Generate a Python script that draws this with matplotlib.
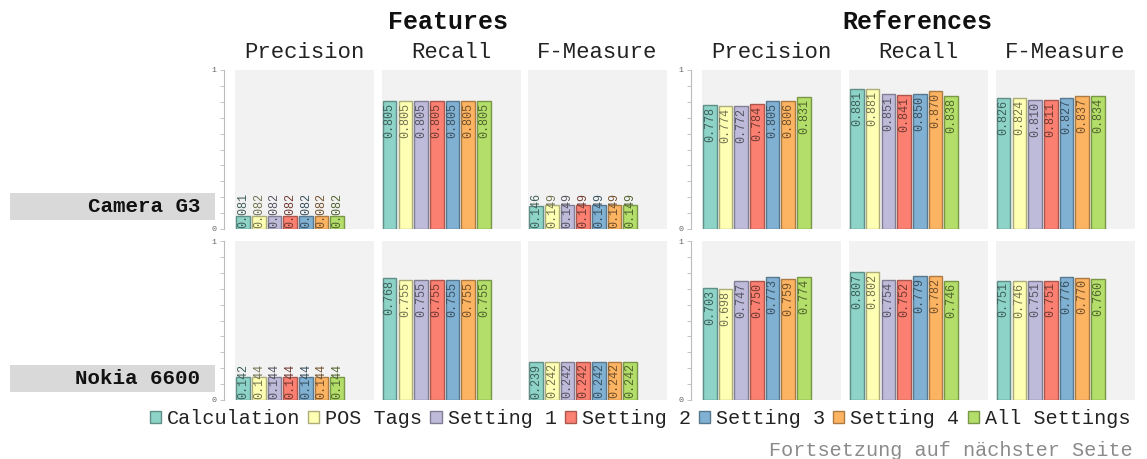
import matplotlib
matplotlib.use('Agg')
import matplotlib.pyplot as plt
import matplotlib.colors as mcolors
from matplotlib.patches import Rectangle, Patch

plt.rcParams['font.family'] = ['Liberation Mono', 'DejaVu Sans Mono']

series = ['Calculation', 'POS Tags', 'Setting 1', 'Setting 2', 'Setting 3', 'Setting 4', 'All Settings']
colors = ['#8dd3c7', '#ffffb3', '#bebada', '#fb8072', '#80b1d3', '#fdb462', '#b3de69']
groups = ['Features', 'References']
metrics = ['Precision', 'Recall', 'F-Measure']
products = ['Camera G3', 'Nokia 6600']

# Camera G3
camera_feat_precision = [0.081, 0.082, 0.082, 0.082, 0.082, 0.082, 0.082]
camera_feat_recall = [0.805, 0.805, 0.805, 0.805, 0.805, 0.805, 0.805]
camera_feat_fmeasure = [0.146, 0.149, 0.149, 0.149, 0.149, 0.149, 0.149]
camera_ref_precision = [0.778, 0.774, 0.772, 0.784, 0.805, 0.806, 0.831]
camera_ref_recall = [0.881, 0.881, 0.851, 0.841, 0.850, 0.870, 0.838]
camera_ref_fmeasure = [0.826, 0.824, 0.810, 0.811, 0.827, 0.837, 0.834]

# Nokia 6600
nokia_feat_precision = [0.142, 0.144, 0.144, 0.144, 0.144, 0.144, 0.144]
nokia_feat_recall = [0.768, 0.755, 0.755, 0.755, 0.755, 0.755, 0.755]
nokia_feat_fmeasure = [0.239, 0.242, 0.242, 0.242, 0.242, 0.242, 0.242]
nokia_ref_precision = [0.703, 0.698, 0.747, 0.750, 0.773, 0.759, 0.774]
nokia_ref_recall = [0.807, 0.802, 0.754, 0.752, 0.779, 0.782, 0.746]
nokia_ref_fmeasure = [0.751, 0.746, 0.751, 0.751, 0.776, 0.770, 0.760]

rows = [
    [camera_feat_precision, camera_feat_recall, camera_feat_fmeasure,
     camera_ref_precision, camera_ref_recall, camera_ref_fmeasure],
    [nokia_feat_precision, nokia_feat_recall, nokia_feat_fmeasure,
     nokia_ref_precision, nokia_ref_recall, nokia_ref_fmeasure],
]

W, H = 1147, 459
col_left = [235, 381.5, 528, 701.7, 848.8, 995.5]
col_width = 139
row_top = [70, 241]
row_height = 159


def shade(c, f):
    r, g, b = mcolors.to_rgb(c)
    return (r * f, g * f, b * f)


def draw_panel(ax, vals, with_axis):
    xs = list(range(len(vals)))
    ax.bar(xs, vals, width=0.87, color=colors,
           edgecolor=[shade(c, 0.68) for c in colors], linewidth=1, zorder=2)
    for x, v, c in zip(xs, vals, colors):
        if v - 0.012 < 0.225:
            ax.text(x, 0.008, '%.3f' % v, rotation=90, ha='center', va='bottom',
                    fontsize=8.5, color=shade(c, 0.45), zorder=3)
        else:
            ax.text(x, v - 0.012, '%.3f' % v, rotation=90, ha='center', va='top',
                    fontsize=8.5, color=shade(c, 0.45), zorder=3)
    ax.set_xlim(-0.52, 8.34)
    ax.set_ylim(0, 1)
    ax.set_facecolor('#f2f2f2')
    ax.set_xticks([])
    for s in ['top', 'right', 'bottom']:
        ax.spines[s].set_visible(False)
    if with_axis:
        ax.spines['left'].set_position(('outward', 8))
        ax.spines['left'].set_color('#bbbbbb')
        ax.spines['left'].set_linewidth(0.8)
        ax.set_yticks([0, 1])
        ax.set_yticklabels(['0', '1'])
        ax.set_yticks([i / 10 for i in range(1, 10)], minor=True)
        ax.tick_params(axis='y', which='both', length=3, width=0.6, color='#bbbbbb',
                       labelsize=6, labelcolor='#666666', pad=2)
    else:
        ax.spines['left'].set_visible(False)
        ax.set_yticks([])


fig = plt.figure(figsize=(W / 100, H / 100), dpi=100)

for r, row_vals in enumerate(rows):
    for c, vals in enumerate(row_vals):
        ax = fig.add_axes([col_left[c] / W, 1 - (row_top[r] + row_height) / H,
                           col_width / W, row_height / H])
        draw_panel(ax, vals, c in (0, 3))

# column headers
for c in range(6):
    fig.text((col_left[c] + col_width / 2) / W, 1 - 52 / H, metrics[c % 3],
             ha='center', va='center', fontsize=16, color='#222222')
fig.text(448 / W, 1 - 22 / H, groups[0], ha='center', va='center',
         fontsize=18, fontweight='bold', color='#111111')
fig.text(917 / W, 1 - 22 / H, groups[1], ha='center', va='center',
         fontsize=18, fontweight='bold', color='#111111')

# row labels
label_box = [(193, 220), (365, 392)]
for name, (y0, y1) in zip(products, label_box):
    fig.patches.append(Rectangle((10 / W, 1 - y1 / H), 205 / W, (y1 - y0) / H,
                                 transform=fig.transFigure, facecolor='#d9d9d9',
                                 edgecolor='none'))
    fig.text(200 / W, 1 - (y0 + y1) / 2 / H, name, ha='right', va='center',
             fontsize=15, fontweight='bold', color='#111111')

handles = [Patch(facecolor=c, edgecolor=shade(c, 0.68), linewidth=1) for c in colors]
fig.legend(handles, series, loc='center', bbox_to_anchor=(640 / W, 1 - 419 / H),
           ncol=7, frameon=False, fontsize=14.5, handlelength=0.55, handleheight=0.55,
           handletextpad=0.3, columnspacing=0.4, borderpad=0, labelcolor='#222222')

fig.text(1133 / W, 1 - 451 / H, 'Fortsetzung auf nächster Seite', ha='right', va='center',
         fontsize=14.5, color='#8a8a8a')

plt.savefig('out.png', dpi=100)
